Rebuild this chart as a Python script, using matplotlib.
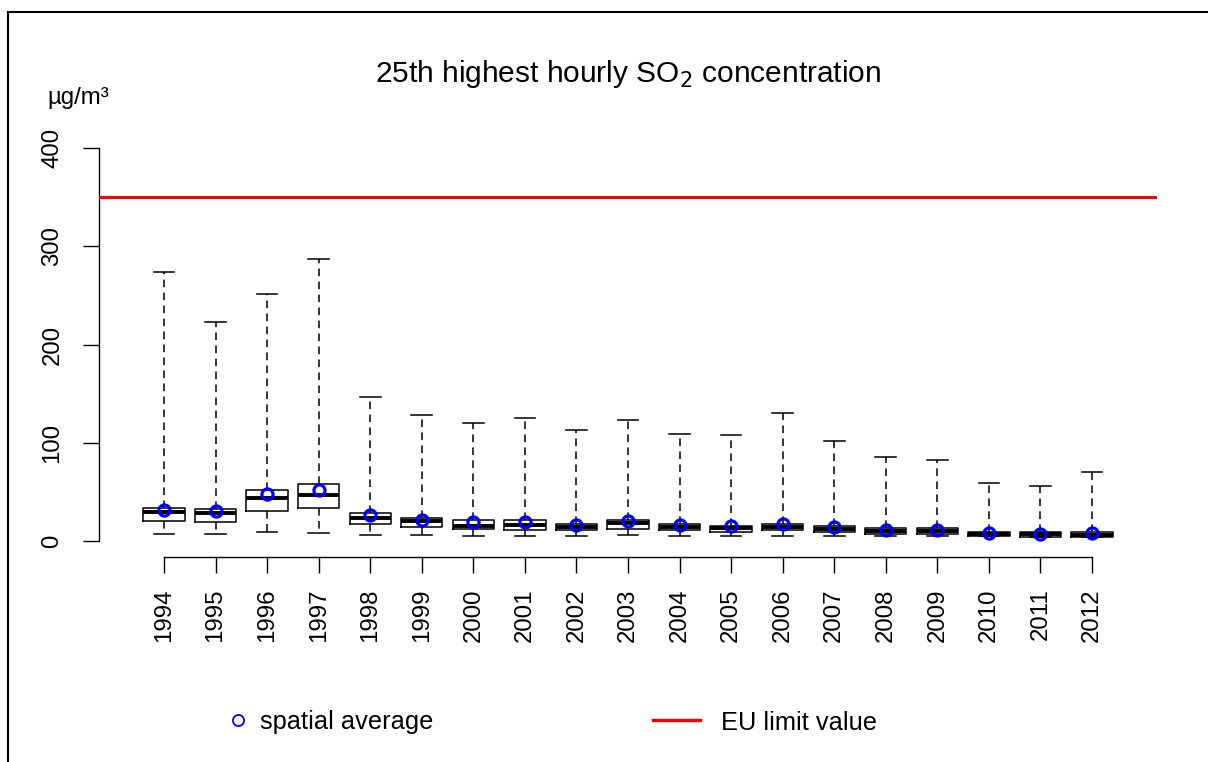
import matplotlib
matplotlib.use("Agg")
import matplotlib.pyplot as plt
from matplotlib.lines import Line2D

plt.rcParams['font.family'] = ['Liberation Sans', 'DejaVu Sans']

# 25th highest hourly SO2 concentration per station, summarised by year
years = ['1994', '1995', '1996', '1997', '1998', '1999', '2000', '2001', '2002', '2003',
         '2004', '2005', '2006', '2007', '2008', '2009', '2010', '2011', '2012']
whisker_low = [7.8, 7.8, 9.2, 8.8, 6.1, 6.1, 5.1, 5.0, 5.0, 6.8,
               5.1, 5.0, 5.8, 5.0, 5.1, 5.1, 5.0, 4.0, 4.0]
q1 = [20.3, 20.0, 31.2, 34.0, 17.7, 14.6, 12.6, 11.2, 11.2, 12.6,
      11.2, 9.9, 11.2, 9.9, 7.8, 7.8, 5.1, 4.4, 4.5]
median = [29.8, 28.9, 44.0, 47.2, 23.8, 20.3, 16.0, 17.0, 14.6, 18.7,
          15.0, 13.0, 15.0, 12.5, 10.5, 10.5, 7.5, 7.0, 6.8]
q3 = [34.0, 33.0, 52.6, 58.7, 28.9, 23.8, 21.4, 21.4, 18.0, 22.0,
      18.0, 16.0, 18.0, 15.3, 13.2, 13.2, 9.9, 9.2, 9.2]
whisker_high = [274, 223, 251, 287, 147, 128, 120, 125, 113, 123,
                109, 108, 130, 102, 86, 83, 59, 56, 70]
spatial_average = [31.5, 30.5, 48.2, 52.6, 27.1, 22.0, 19.3, 19.3, 17.0, 20.3,
                   16.6, 15.3, 17.7, 14.3, 11.9, 11.9, 8.5, 7.8, 8.5]
eu_limit = 350
y_ticks = [0, 100, 200, 300, 400]

W, H = 1208, 762
fig = plt.figure(figsize=(W / 100, H / 100), dpi=100)
ax = fig.add_axes([99 / W, 1 - 557 / H, (1157 - 99) / W, (557 - 132) / H])

positions = list(range(1, len(years) + 1))
stats = [dict(whislo=lo, q1=a, med=m, q3=b, whishi=hi, fliers=[], label=y)
         for y, lo, a, m, b, hi in zip(years, whisker_low, q1, median, q3, whisker_high)]

ax.bxp(stats, positions=positions, widths=0.8, capwidths=0.4, showfliers=False,
       boxprops=dict(color='black', linewidth=1.1),
       medianprops=dict(color='black', linewidth=2.8, solid_capstyle='butt'),
       whiskerprops=dict(color='black', linewidth=1.1, linestyle=(0, (5, 3.5))),
       capprops=dict(color='black', linewidth=1.1))

ax.plot(positions, spatial_average, linestyle='none', marker='o', markersize=8,
        markerfacecolor='none', markeredgecolor='blue', markeredgewidth=2.3, zorder=5)
ax.axhline(eu_limit, color='red', linewidth=2.2, zorder=6)

ax.set_xlim(0.5 - 0.76, len(years) + 0.5 + 0.76)
ax.set_ylim(-16, 416)

for side in ('top', 'right'):
    ax.spines[side].set_visible(False)
ax.spines['left'].set_bounds(0, 400)
ax.spines['bottom'].set_bounds(1, len(years))
for side in ('left', 'bottom'):
    ax.spines[side].set_linewidth(1.0)

ax.set_xticks(positions)
ax.set_xticklabels(years, rotation=90)
ax.set_yticks(y_ticks)
ax.set_yticklabels([str(v) for v in y_ticks], rotation=90, va='center')
ax.tick_params(axis='both', length=11.5, width=1.0, labelsize=17.3, direction='out')
ax.tick_params(axis='x', pad=11)
ax.tick_params(axis='y', pad=14)

fig.text(628 / W, 1 - 82 / H, '25th highest hourly SO$_2$ concentration',
         ha='center', va='baseline', fontsize=21.5)
fig.text(47 / W, 1 - 104 / H, 'µg/m³', ha='left', va='baseline', fontsize=17.3)

# legend row beneath the plot
ly = 1 - 720 / H
fig.add_artist(Line2D([238 / W], [ly], linestyle='none', marker='o', markersize=8,
                      markerfacecolor='none', markeredgecolor='blue',
                      markeredgewidth=1.3, transform=fig.transFigure))
fig.text(260 / W, ly, 'spatial average', ha='left', va='center_baseline', fontsize=18.3)
fig.add_artist(Line2D([653 / W, 700 / W], [ly, ly], color='red', linewidth=2.4,
                      transform=fig.transFigure))
fig.text(721 / W, ly, 'EU limit value', ha='left', va='center_baseline', fontsize=18.3)

# outer frame
fig.add_artist(Line2D([8 / W, 8 / W], [0, 1 - 12 / H], color='black', linewidth=1.5,
                      transform=fig.transFigure))
fig.add_artist(Line2D([8 / W, 1], [1 - 12 / H, 1 - 12 / H], color='black', linewidth=1.5,
                      transform=fig.transFigure))

fig.savefig('out.png', dpi=100)
